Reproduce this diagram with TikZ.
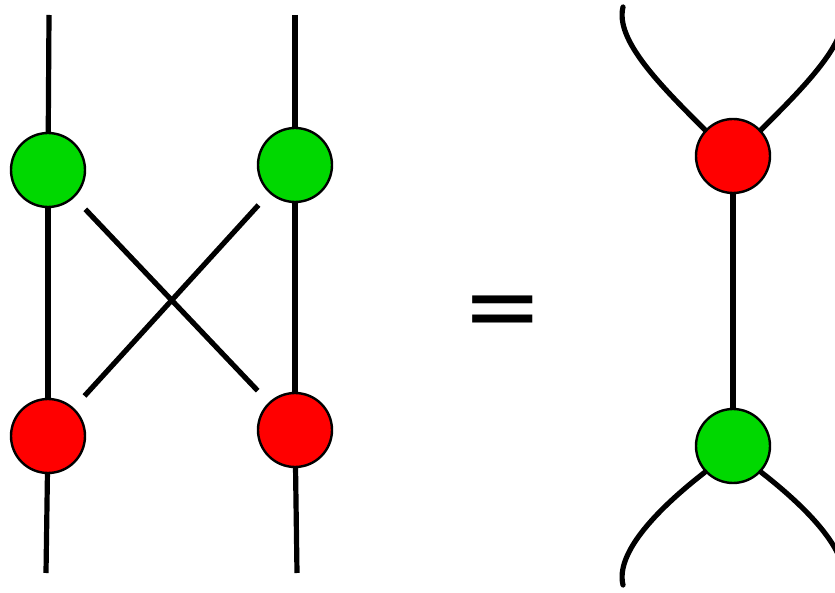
\documentclass[tikz,border=0pt]{standalone}
\usepackage{fontspec}
\newfontfamily\eqfont{DejaVu Sans}
\usepackage{tikz}
\definecolor{zxG}{RGB}{0,216,0}
\definecolor{zxR}{RGB}{255,0,0}

\begin{document}
\begin{tikzpicture}[x=1pt,y=1pt,
  wire/.style={line width=5.2pt},
  spider/.style={circle,draw,line width=2.4pt,minimum size=74pt,inner sep=0pt},
  gsp/.style={spider,fill=zxG},
  rsp/.style={spider,fill=zxR}]
\useasboundingbox (0,0) rectangle (835,592);
\clip (0,0) rectangle (835,592);
% left hand side
\coordinate (t1) at (49,577);
\coordinate (t2) at (295,577);
\coordinate (b1) at (46,19);
\coordinate (b2) at (297,19);
\node[gsp] (g1) at (48,422) {};
\node[gsp] (g2) at (295,427) {};
\node[rsp] (r1) at (48,156) {};
\node[rsp] (r2) at (295,162) {};
\draw[wire] (t1) -- (g1);
\draw[wire] (t2) -- (g2);
\draw[wire] (g1) -- (r1);
\draw[wire] (g2) -- (r2);
\draw[wire] (r1) -- (b1);
\draw[wire] (r2) -- (b2);
\draw[wire,shorten <=16pt,shorten >=16pt] (g1) -- (r2);
\draw[wire,shorten <=16pt,shorten >=16pt] (g2) -- (r1);
% equals
\node[font=\eqfont\fontsize{96}{96}\selectfont] (eq) at (503,274) {=};
% right hand side
\node[rsp] (r3) at (733,436) {};
\node[gsp] (g3) at (733,146) {};
\coordinate (t3) at (623,585);
\coordinate (t4) at (843,585);
\coordinate (b3) at (623,7);
\coordinate (b4) at (843,7);
\draw[wire] (r3) -- (g3);
\draw[wire,line cap=round] (r3.137) .. controls (660,507) and (615,552) .. (t3);
\draw[wire,line cap=round] (r3.43) .. controls (806,507) and (851,552) .. (t4);
\draw[wire,line cap=round] (g3.-137) .. controls (660,85) and (615,40) .. (b3);
\draw[wire,line cap=round] (g3.-43) .. controls (806,85) and (851,40) .. (b4);
\end{tikzpicture}
\end{document}
